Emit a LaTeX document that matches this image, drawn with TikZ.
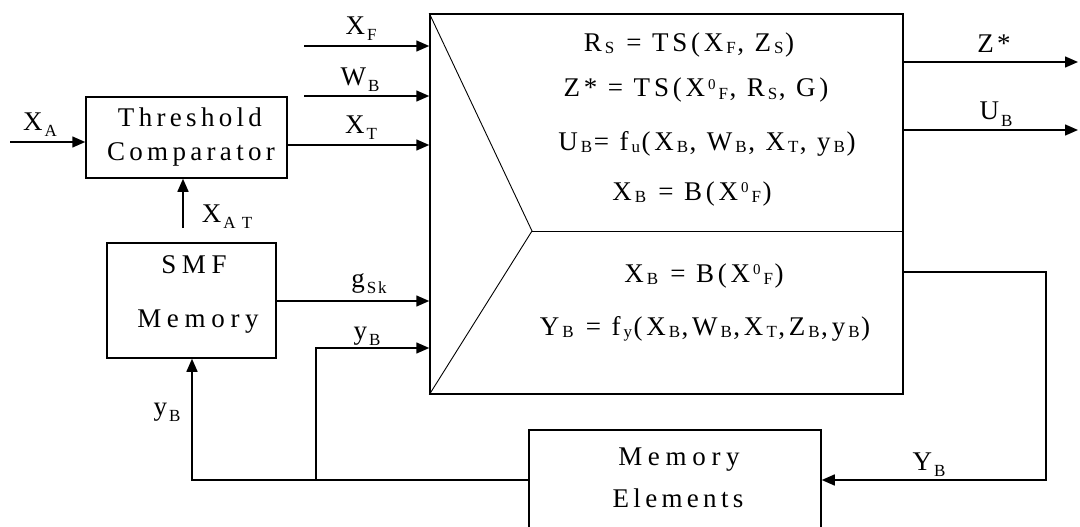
\documentclass[tikz,border=0pt]{standalone}
\usepackage{fontspec}
\setmainfont[LetterSpace=12]{Liberation Serif}
\newfontfamily\spaced[LetterSpace=16]{Liberation Serif}
\newfontfamily\wspaced[LetterSpace=21]{Liberation Serif}
\newfontfamily\eqfont[LetterSpace=14]{Liberation Serif}
\usetikzlibrary{arrows.meta}
\newcommand\lsub[1]{\hspace{2pt}\raisebox{-6pt}{\fontsize{17}{17}\selectfont #1}}
\newcommand\esub[1]{\hspace{3pt}\raisebox{-2pt}{\fontsize{17}{17}\selectfont #1}\hspace{1.5pt}}
\newcommand\esup[1]{\hspace{3pt}\raisebox{8pt}{\fontsize{15}{15}\selectfont #1}}
\begin{document}
\begin{tikzpicture}[x=1pt,y=-1pt,
  font=\fontsize{27}{32}\selectfont,
  line width=1.5pt,
  box/.style={draw, rectangle, inner sep=0pt},
  arr/.style={-{Triangle[length=13pt,width=11pt]}},
  lbl/.style={anchor=base, inner sep=0pt},
  sp/.style={font=\spaced\fontsize{27}{32}\selectfont},
  wsp/.style={font=\wspaced\fontsize{27}{32}\selectfont},
  eq/.style={anchor=base, inner sep=0pt, font=\eqfont\fontsize{27}{32}\selectfont},
  thin/.style={line width=0.9pt}]
\useasboundingbox (0,0) rectangle (1080,527);
\clip (0,0) rectangle (1080,527);
% boxes
\node[box, minimum width=201pt, minimum height=81pt] (tc) at (186.5,137.5) {};
\node[box, minimum width=169pt, minimum height=115pt] (smf) at (191.5,300.5) {};
\node[box, minimum width=473pt, minimum height=380pt] (main) at (666.5,204) {};
\node[box, minimum width=292pt, minimum height=140pt] (mem) at (675,500) {};
% box texts
\node[lbl, sp] (tct1) at (190,127) {Threshold};
\node[lbl, sp] (tct2) at (191,160) {Comparator};
\node[lbl, wsp] (smft1) at (194,273) {SMF};
\node[lbl, wsp] (smft2) at (198,327) {Memory};
\node[lbl, wsp] (memt1) at (679,465) {Memory};
\node[lbl, sp] (memt2) at (678,507) {Elements};
% internal structure of main box
\coordinate (vtx) at (532,231);
\draw[thin] (main.north west) -- (vtx) -- (main.south west);
\draw[thin] (vtx) -- (main.east |- vtx);
% equations
\node[eq] (e1) at (689,52) {R\esub{S} = TS(X\esub{F}, Z\esub{S})};
\node[eq] (e2) at (696,97) {Z* = TS(X\esup{0}\esub{F}, R\esub{S}, G)};
\node[eq] (e3) at (707,150) {U\esub{B}= f\esub{u}(X\esub{B}, W\esub{B}, X\esub{T}, y\esub{B})};
\node[eq] (e4) at (692,200) {X\esub{B} = B(X\esup{0}\esub{F})};
\node[eq] (e5) at (704,282) {X\esub{B} = B(X\esup{0}\esub{F})};
\node[eq] (e6) at (705,335) {Y\esub{B} = f\esub{y}(X\esub{B},W\esub{B},X\esub{T},Z\esub{B},y\esub{B})};
% free ends
\coordinate (xa) at (10,142);
\coordinate (xf) at (304,46);
\coordinate (wb) at (304,96);
\coordinate (xat) at (183,228);
\coordinate (zo) at (1078,62);
\coordinate (uo) at (1078,130);
\coordinate (c1) at (1046,272);
\coordinate (c2) at (1046,480);
\coordinate (c3) at (192,480);
\coordinate (c4) at (316,480);
\coordinate (c5) at (316,348);
% connectors
\draw[arr] (xa) -- (tc.west |- xa);
\draw[arr] (xf) -- (main.west |- xf);
\draw[arr] (wb) -- (main.west |- wb);
\draw[arr] (tc.east |- 0,145) -- (main.west |- 0,145);
\draw[arr] (xat) -- (tc.south -| xat);
\draw[arr] (smf.east |- 0,301) -- (main.west |- 0,301);
\draw[arr] (c4) -- (c5) -- (main.west |- c5);
\draw[arr] (main.east |- zo) -- (zo);
\draw[arr] (main.east |- uo) -- (uo);
\draw[arr] (main.east |- c1) -- (c1) -- (c2) -- (mem.east |- c2);
\draw[arr] (mem.west |- c3) -- (c3) -- (smf.south -| c3);
% labels
\node[lbl] (lxa) at (40,130) {X\lsub{A}};
\node[lbl] (lxf) at (361,35) {X\lsub{F}};
\node[lbl] (lwb) at (360,85) {W\lsub{B}};
\node[lbl] (lxt) at (361,133) {X\lsub{T}};
\node[lbl] (lxat) at (227,222) {X\lsub{A T}};
\node[lbl] (lgsk) at (369,287) {g\lsub{Sk}};
\node[lbl] (lyb1) at (367,339) {y\lsub{B}};
\node[lbl] (lyb2) at (167,415) {y\lsub{B}};
\node[lbl] (lz) at (994,53) {Z*};
\node[lbl] (lub) at (996,120) {U\lsub{B}};
\node[lbl] (lyb3) at (929,470) {Y\lsub{B}};
\end{tikzpicture}
\end{document}
